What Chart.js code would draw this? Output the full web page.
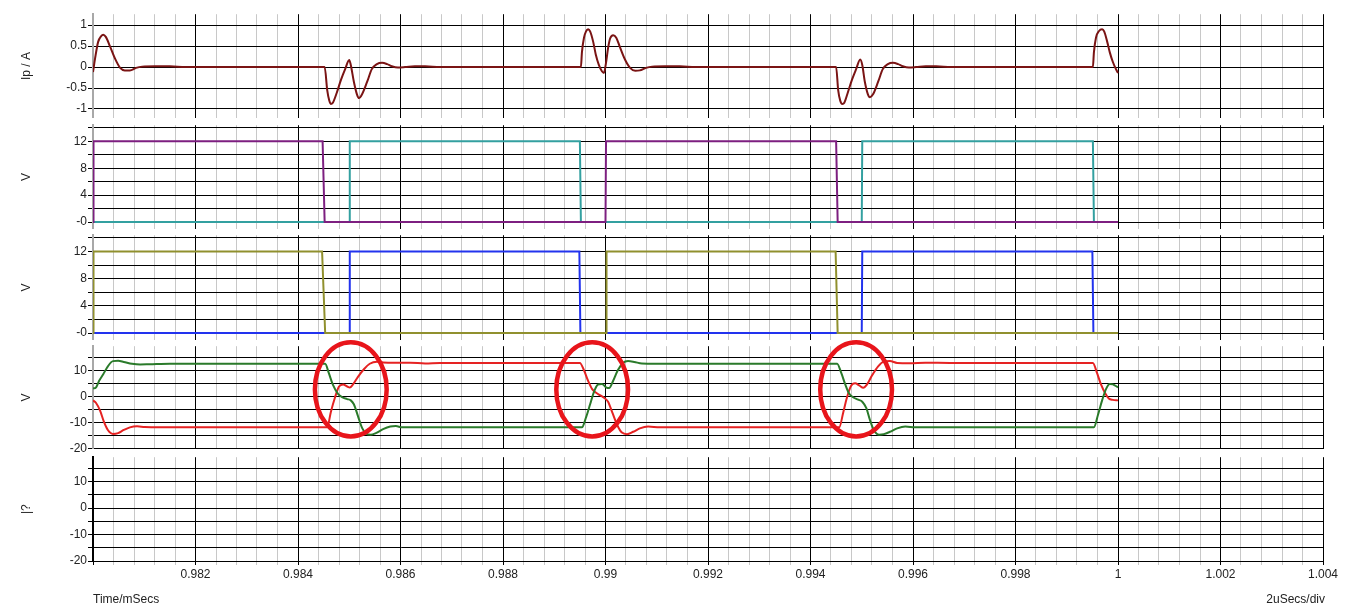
<!DOCTYPE html>
<html>
<head>
<meta charset="utf-8">
<title>Ip and gate waveforms</title>
<script src="https://cdn.jsdelivr.net/npm/chart.js@4.4.1/dist/chart.umd.min.js"></script>
<style>
  html, body { margin: 0; padding: 0; background: #fff; }
  #wrap { position: relative; width: 1346px; height: 614px; overflow: hidden; background: #fff; }
  #wrap canvas { position: absolute; left: 0; }
</style>
</head>
<body>
<div id="wrap">
  <canvas id="p1"></canvas>
  <canvas id="p2"></canvas>
  <canvas id="p3"></canvas>
  <canvas id="p4"></canvas>
  <canvas id="p5"></canvas>
</div>
<script>
// time axis, mSecs
const timeMin = 0.98;
const timeMax = 1.004;
const timeStep = 0.0004;

// panel 1: primary current Ip / A
const ipTime = [
  0.98000, 0.98004, 0.98010, 0.98016, 0.98020, 0.98025, 0.98033, 0.98043, 0.98053, 0.98062, 0.98072, 0.98084, 0.98096, 0.98121, 0.98150, 0.98180,
  0.98452, 0.98457, 0.98461, 0.98464, 0.98468, 0.98476, 0.98484, 0.98492, 0.98500, 0.98503, 0.98509, 0.98515, 0.98519, 0.98525, 0.98535, 0.98544, 0.98554, 0.98564, 0.98574, 0.98583, 0.98595, 0.98609, 0.98628, 0.98648, 0.98677,
  0.98952, 0.98954, 0.98958, 0.98962, 0.98966, 0.98970, 0.98976, 0.98981, 0.98987, 0.98993, 0.98997, 0.99001, 0.99005, 0.99009, 0.99015, 0.99021, 0.99028, 0.99038, 0.99048, 0.99058, 0.99067, 0.99079, 0.99091, 0.99116, 0.99145, 0.99175,
  0.99450, 0.99454, 0.99458, 0.99462, 0.99466, 0.99473, 0.99481, 0.99489, 0.99497, 0.99501, 0.99506, 0.99512, 0.99516, 0.99522, 0.99532, 0.99541, 0.99551, 0.99561, 0.99571, 0.99580, 0.99592, 0.99606, 0.99625, 0.99645, 0.99674,
  0.99951, 0.99953, 0.99957, 0.99963, 0.99969, 0.99973, 0.99979, 0.99984, 0.99990, 0.99996, 1.00000
];
const ipAmps = [
  -0.12, 0.2, 0.6, 0.74, 0.77, 0.72, 0.5, 0.2, -0.02, -0.08, -0.08, -0.02, 0.01, 0.02, 0.02, 0,
  0, -0.55, -0.8, -0.88, -0.85, -0.6, -0.3, -0.05, 0.17, 0.05, -0.35, -0.65, -0.74, -0.65, -0.35, -0.05, 0.07, 0.1, 0.07, 0.02, -0.01, 0, 0.02, 0.02, 0,
  0, 0.35, 0.7, 0.85, 0.9, 0.85, 0.6, 0.3, 0.05, -0.1, -0.14, 0.1, 0.45, 0.68, 0.76, 0.7, 0.48, 0.18, -0.02, -0.09, -0.08, -0.02, 0.01, 0.02, 0.02, 0,
  0, -0.55, -0.8, -0.88, -0.85, -0.6, -0.3, -0.05, 0.18, 0.05, -0.35, -0.65, -0.72, -0.65, -0.35, -0.05, 0.07, 0.1, 0.07, 0.02, -0.01, 0, 0.02, 0.02, 0,
  0, 0.35, 0.7, 0.86, 0.9, 0.85, 0.6, 0.35, 0.12, -0.05, -0.14
];

// panel 2: gate drive, purple and teal
const purpleTime = [0.98000, 0.98001, 0.98448, 0.98452, 0.99000, 0.99001, 0.99450, 0.99453, 1.00000];
const purpleVolts = [0, 12, 12, 0, 0, 12, 12, 0, 0];
const tealTime = [0.98000, 0.98500, 0.98501, 0.98950, 0.98952, 0.99500, 0.99501, 0.99951, 0.99953, 1.00000];
const tealVolts = [0, 0, 12, 12, 0, 0, 12, 12, 0, 0];

// panel 3: gate drive, olive and blue
const oliveTime = [0.98000, 0.98001, 0.98447, 0.98453, 0.99001, 0.99002, 0.99449, 0.99453, 1.00000];
const oliveVolts = [0, 12, 12, 0, 0, 12, 12, 0, 0];
const blueTime = [0.98000, 0.98500, 0.98501, 0.98949, 0.98951, 0.99500, 0.99501, 0.99950, 0.99952, 1.00000];
const blueVolts = [0, 0, 12, 12, 0, 0, 12, 12, 0, 0];

// panel 4: green and red
const greenTime = [
  0.98000, 0.98006, 0.98012, 0.98020, 0.98029, 0.98039, 0.98049, 0.98060, 0.98076, 0.98092, 0.98111, 0.98150,
  0.98453, 0.98460, 0.98468, 0.98478, 0.98486, 0.98496, 0.98503, 0.98509, 0.98517, 0.98525, 0.98533, 0.98542, 0.98552, 0.98566, 0.98580, 0.98591, 0.98603, 0.98628,
  0.98954, 0.98962, 0.98970, 0.98977, 0.98985, 0.98993, 0.99001, 0.99007, 0.99015, 0.99024, 0.99034, 0.99044, 0.99056, 0.99071, 0.99097,
  0.99452, 0.99460, 0.99468, 0.99475, 0.99483, 0.99493, 0.99501, 0.99509, 0.99516, 0.99524, 0.99534, 0.99543, 0.99555, 0.99569, 0.99585, 0.99604,
  0.99953, 0.99961, 0.99969, 0.99977, 0.99984, 0.99990, 1.00000
];
const greenVolts = [
  3.0, 3.5, 6, 8.5, 11.5, 13.5, 13.6, 13.2, 12.5, 12.2, 12.3, 12.5,
  12.5, 9, 4.5, 1.0, -0.3, -1.0, -1.5, -3, -7.5, -12, -14.2, -14.6, -14, -12.5, -11.5, -11.3, -11.8, -11.8,
  -11.8, -8, -3, 1.5, 4.5, 4.8, 3.5, 3.2, 6, 10, 12.8, 13.5, 13.2, 12.6, 12.5,
  12.5, 9, 4.5, 1.2, -0.3, -1.2, -2, -4.5, -9, -13, -14.6, -14.4, -13.5, -12.2, -11.5, -11.8,
  -11.8, -7, -1.5, 3, 4.8, 4.6, 3.5
];
const redTime = [
  0.98000, 0.98006, 0.98014, 0.98021, 0.98029, 0.98039, 0.98049, 0.98060, 0.98072, 0.98086, 0.98101, 0.98131,
  0.98457, 0.98464, 0.98472, 0.98480, 0.98488, 0.98496, 0.98501, 0.98507, 0.98517, 0.98529, 0.98540, 0.98554, 0.98566, 0.98589, 0.98619, 0.98648, 0.98677, 0.98706,
  0.98950, 0.98958, 0.98966, 0.98974, 0.98981, 0.98989, 0.98997, 0.99005, 0.99013, 0.99023, 0.99032, 0.99042, 0.99054, 0.99067, 0.99083, 0.99106,
  0.99456, 0.99464, 0.99471, 0.99479, 0.99487, 0.99495, 0.99503, 0.99510, 0.99520, 0.99532, 0.99543, 0.99555, 0.99569, 0.99594, 0.99624, 0.99672,
  0.99951, 0.99959, 0.99967, 0.99975, 0.99982, 0.99990, 1.00000
];
const redVolts = [
  -1.5, -2.5, -5.5, -9.5, -12.8, -14.3, -14.0, -12.8, -11.8, -11.4, -11.7, -11.8,
  -11.8, -6, -0.5, 3.8, 4.6, 3.8, 3.4, 4.5, 7.5, 10.5, 12.5, 13.3, 13.0, 12.9, 12.9, 12.6, 12.8, 12.8,
  12.8, 10, 6, 2.8, 1.5, 0.5, -0.5, -2, -6, -11, -13.8, -14.4, -13.5, -12.2, -11.5, -11.8,
  -11.8, -6, -0.5, 4, 5, 4.2, 3.3, 4.5, 8, 11.5, 13.3, 13.5, 12.8, 12.7, 12.9, 12.8,
  12.8, 9, 4.5, 1.2, -0.8, -1.3, -1.5
];

// red rings marked on panel 4 (centre time, centre volts)
const ringTime = [0.98503, 0.98974, 0.99489];
const ringVolts = [2.7, 2.7, 2.7];
const ringHalfTime = 0.0007;
const ringHalfVolts = 18;

const font = '"Liberation Sans", Arial, sans-serif';
Chart.defaults.font.family = font;
Chart.defaults.font.size = 12;
Chart.defaults.color = '#222';

function series(times, values, color, smooth) {
  return {
    data: times.map((t, i) => ({ x: t, y: values[i] })),
    borderColor: color,
    borderWidth: 2,
    pointRadius: 0,
    fill: false,
    tension: 0,
    cubicInterpolationMode: smooth ? 'monotone' : 'default'
  };
}

const panels = [
  { id: 'p1', top: 14, bottom: 118, yMin: -1.21, yMax: 1.26, step: 0.5, labelStep: 0.5, title: 'Ip / A',
    datasets: [series(ipTime, ipAmps, '#7a1414', true)] },
  { id: 'p2', top: 125, bottom: 229, yMin: -1, yMax: 14.4, step: 2, labelStep: 4, title: 'V', negZero: true,
    datasets: [series(purpleTime, purpleVolts, '#7d1f80', false), series(tealTime, tealVolts, '#33a0a0', false)] },
  { id: 'p3', top: 235, bottom: 340, yMin: -1, yMax: 14.4, step: 2, labelStep: 4, title: 'V', negZero: true,
    datasets: [series(oliveTime, oliveVolts, '#90902e', false), series(blueTime, blueVolts, '#2233ee', false)] },
  { id: 'p4', top: 346, bottom: 449, yMin: -20, yMax: 19.2, step: 5, labelStep: 10, title: 'V', rings: true,
    datasets: [series(greenTime, greenVolts, '#2a7a2a', true), series(redTime, redVolts, '#e52222', true)] },
  { id: 'p5', top: 457, bottom: 561, yMin: -20, yMax: 19.2, step: 5, labelStep: 10, title: '|?', last: true,
    datasets: [] }
];

const ringPlugin = {
  id: 'rings',
  afterDatasetsDraw(chart) {
    const xs = chart.scales.x, ys = chart.scales.y, ctx = chart.ctx;
    ctx.save();
    ctx.strokeStyle = '#e8151b';
    ctx.lineWidth = 4.5;
    ringTime.forEach((t, i) => {
      const cx = xs.getPixelForValue(t);
      const cy = ys.getPixelForValue(ringVolts[i]);
      const rx = Math.abs(xs.getPixelForValue(t + ringHalfTime) - cx);
      const ry = Math.abs(ys.getPixelForValue(ringVolts[i] + ringHalfVolts) - cy);
      ctx.beginPath();
      ctx.ellipse(cx, cy, rx, ry, 0, 0, 2 * Math.PI);
      ctx.stroke();
    });
    ctx.restore();
  }
};

const footerPlugin = {
  id: 'footer',
  afterDraw(chart) {
    const ctx = chart.ctx;
    ctx.save();
    ctx.font = '12px ' + font;
    ctx.fillStyle = '#222';
    ctx.textAlign = 'right';
    ctx.textBaseline = 'middle';
    ctx.fillText('2uSecs/div', chart.chartArea.right + 2, chart.height - 14);
    ctx.restore();
  }
};

const pad = 8;

panels.forEach(p => {
  const cv = document.getElementById(p.id);
  const top = p.top - pad;
  const height = p.last ? 614 - top : (p.bottom - p.top) + 2 * pad;
  cv.width = 1346;
  cv.height = height;
  cv.style.width = '1346px';
  cv.style.height = height + 'px';
  cv.style.top = top + 'px';

  const plugins = [];
  if (p.rings) plugins.push(ringPlugin);
  if (p.last) plugins.push(footerPlugin);

  new Chart(cv, {
    type: 'line',
    data: { datasets: p.datasets },
    plugins: plugins,
    options: {
      responsive: false,
      animation: false,
      devicePixelRatio: 1,
      layout: { padding: { top: pad, bottom: p.last ? 0 : pad, left: 0, right: 23 } },
      plugins: { legend: { display: false }, tooltip: { enabled: false } },
      scales: {
        x: {
          type: 'linear',
          min: timeMin,
          max: timeMax,
          afterFit: s => { s.height = p.last ? 614 - p.bottom : 0; },
          border: { display: false },
          grid: {
            color: c => (c.index === 0 && !p.last) ? '#b4b4b4' : (c.index % 5 === 0 ? '#000' : '#c8c8c8'),
            lineWidth: 1,
            drawTicks: !!p.last,
            tickLength: 4
          },
          ticks: {
            display: !!p.last,
            stepSize: timeStep,
            maxTicksLimit: 100,
            autoSkip: false,
            maxRotation: 0,
            padding: 2,
            color: '#222',
            callback: (v, i) => (i % 5 === 0 && i > 0) ? String(parseFloat(v.toFixed(4))) : ''
          },
          title: {
            display: !!p.last,
            text: 'Time/mSecs',
            align: 'start',
            color: '#222',
            font: { size: 12 },
            padding: { top: 0, bottom: 7 }
          }
        },
        y: {
          type: 'linear',
          min: p.yMin,
          max: p.yMax,
          afterFit: s => { s.width = 93; },
          border: { display: true, color: p.last ? '#000' : '#a8a8a8', width: 2 },
          grid: { color: '#000', lineWidth: 1, drawTicks: true, tickLength: 5 },
          ticks: {
            stepSize: p.step,
            includeBounds: false,
            maxTicksLimit: 30,
            autoSkip: false,
            padding: 1,
            color: '#222',
            callback: v => {
              const r = v / p.labelStep;
              if (Math.abs(r - Math.round(r)) > 1e-6) return '';
              if (p.negZero && Math.abs(v) < 1e-9) return '-0';
              return String(parseFloat(v.toFixed(2)));
            }
          },
          title: {
            display: true,
            text: p.title,
            color: '#222',
            font: { size: 12 },
            padding: { top: 19, bottom: 0 }
          }
        }
      }
    }
  });
});
</script>
</body>
</html>
